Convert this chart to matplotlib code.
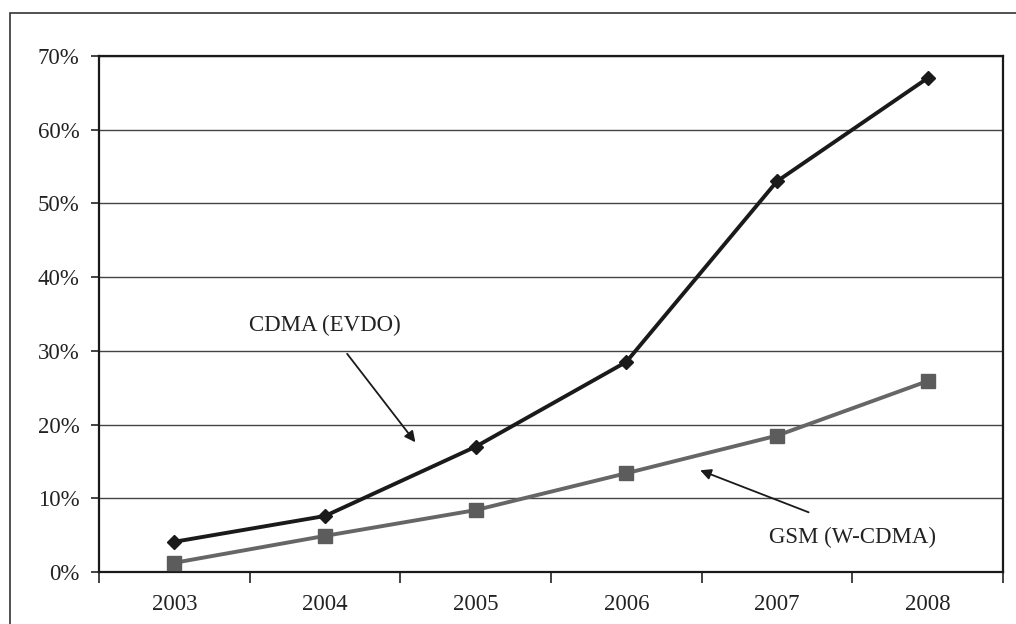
import matplotlib
matplotlib.use("Agg")
import matplotlib.pyplot as plt
from matplotlib.patches import Rectangle
import numpy as np

# data
years = ["2003", "2004", "2005", "2006", "2007", "2008"]
cdma = [4.1, 7.6, 17.0, 28.5, 53.0, 67.0]
gsm = [1.25, 4.9, 8.4, 13.4, 18.5, 25.9]
yticks = [0, 10, 20, 30, 40, 50, 60, 70]

plt.rcParams['font.family'] = ['Liberation Serif', 'DejaVu Serif']

fig = plt.figure(figsize=(10.16, 6.24), dpi=100)
ax = fig.add_axes([0.0974, 0.0833, 0.8898, 0.827])

# outer frame of the picture (cut off at right and bottom)
fig.patches.append(Rectangle((0.0098, -0.2), 1.5, 0.979 + 0.2,
                             transform=fig.transFigure, fill=False,
                             edgecolor='#333333', linewidth=1.2))

x = np.arange(len(years))

ax.plot(x, gsm, '-s', color='#666666', linewidth=2.8, markersize=10,
        markerfacecolor='#5c5c5c', markeredgecolor='#5c5c5c', zorder=3)
ax.plot(x, cdma, '-D', color='#1a1a1a', linewidth=2.8, markersize=7.5,
        zorder=5)

ax.set_xlim(-0.5, len(years) - 0.5)
ax.set_ylim(0, 70)

# y axis
ax.set_yticks(yticks)
ax.set_yticklabels([f"{v}%" for v in yticks], fontsize=16.5, color='#222222')
ax.tick_params(axis='y', direction='out', length=6, width=1.2, pad=8,
               color='#222222')
ax.yaxis.grid(True, color='#444444', linewidth=1.0)
ax.set_axisbelow(True)

# x axis: ticks between categories, labels at centres
ax.set_xticks(np.arange(-0.5, len(years), 1.0))
ax.set_xticklabels([])
ax.set_xticks(x, minor=True)
ax.set_xticklabels(years, minor=True, fontsize=16.5, color='#222222')
ax.tick_params(axis='x', which='major', direction='out', length=8, width=1.2,
               color='#222222')
ax.tick_params(axis='x', which='minor', length=0, pad=16)

for side in ['left', 'bottom', 'top', 'right']:
    ax.spines[side].set_color('#1a1a1a')
    ax.spines[side].set_linewidth(1.6)

# annotations with arrows
ax.annotate("CDMA (EVDO)", xy=(1.6, 17.6), xytext=(1.0, 33.5),
            ha='center', va='center', fontsize=16.5, color='#222222',
            arrowprops=dict(arrowstyle='-|>', color='#1a1a1a', lw=1.3,
                            mutation_scale=16, shrinkA=14, shrinkB=0))
ax.annotate("", xy=(3.49, 13.8), xytext=(4.21, 8.1),
            arrowprops=dict(arrowstyle='-|>', color='#1a1a1a', lw=1.3,
                            mutation_scale=16, shrinkA=0, shrinkB=0))
ax.text(4.5, 4.75, "GSM (W-CDMA)", ha='center', va='center',
        fontsize=16.5, color='#222222')

plt.savefig("out.png", dpi=100)
